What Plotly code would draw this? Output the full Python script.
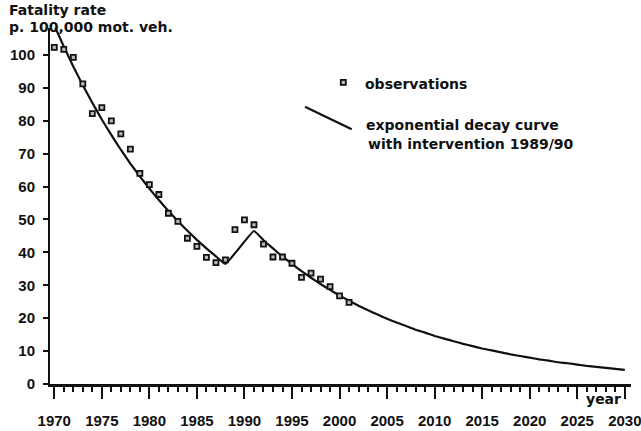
import plotly.graph_objects as go

# Observations (fatality rate per 100,000 motor vehicles)
obs_years = list(range(1970, 2002))
obs_values = [102.3, 101.7, 99.3, 91.2, 82.2, 84.0, 80.0, 76.0, 71.4, 64.0,
              60.6, 57.6, 51.9, 49.4, 44.3, 41.8, 38.5, 36.9, 37.7, 46.9,
              49.9, 48.4, 42.5, 38.6, 38.6, 36.7, 32.4, 33.7, 31.9, 29.6,
              26.8, 24.8]

# Exponential decay curve with intervention 1989/90
curve_years = list(range(1970, 1989)) + list(range(1991, 2031))
curve_values = [109.0, 102.6, 96.5, 90.8, 85.5, 80.4, 75.7, 71.2, 67.0, 63.1,
                59.4, 55.9, 52.6, 49.5, 46.6, 43.8, 41.2, 38.8, 36.5,
                46.5, 43.7, 41.2, 38.7, 36.5, 34.3, 32.3, 30.4, 28.6, 26.9,
                25.3, 23.8, 22.4, 21.1, 19.8, 18.7, 17.6, 16.5, 15.6, 14.6,
                13.8, 13.0, 12.2, 11.5, 10.8, 10.2, 9.6, 9.0, 8.5, 8.0,
                7.5, 7.1, 6.6, 6.3, 5.9, 5.5, 5.2, 4.9, 4.6, 4.3]

x_ticks = list(range(1970, 2031, 5))
y_ticks = list(range(0, 101, 10))

TXT = dict(family="DejaVu Sans", size=14, color="#111111", weight="bold")
NUM = dict(family="Liberation Sans", size=15, color="#111111", weight="bold")

fig = go.Figure()
fig.add_trace(go.Scatter(x=curve_years, y=curve_values, mode="lines",
                         line=dict(color="#111111", width=2.2, shape="spline",
                                   smoothing=0.3),
                         hoverinfo="skip", showlegend=False))
fig.add_trace(go.Scatter(x=obs_years, y=obs_values, mode="markers",
                         marker=dict(symbol="square", size=5, color="#bbbbbb",
                                     line=dict(color="#111111", width=1.8)),
                         showlegend=False))

fig.update_layout(
    width=641, height=431,
    margin=dict(l=50, r=10, t=28, b=47, autoexpand=False),
    paper_bgcolor="white", plot_bgcolor="white",
    xaxis=dict(range=[1969.55, 2030.65], tickmode="array", tickvals=x_ticks,
               ticks="outside", ticklen=12, tickwidth=2, tickcolor="#111111",
               showline=True, linecolor="#111111", linewidth=2.5,
               showgrid=False, zeroline=False, tickfont=NUM,
               ticklabelstandoff=9, automargin=False,
               ticklabeloverflow="allow",
               minor=dict(dtick=1, tick0=1970, ticks="outside", ticklen=5,
                          tickwidth=2, tickcolor="#111111", showgrid=False)),
    yaxis=dict(range=[0, 108.2], tickmode="array", tickvals=y_ticks,
               ticks="outside", ticklen=5, tickwidth=2, tickcolor="#111111",
               showline=True, linecolor="#111111", linewidth=2,
               showgrid=False, zeroline=False, tickfont=NUM,
               ticklabelstandoff=5, automargin=False,
               ticklabeloverflow="allow"),
)

# helpers: pixel -> paper coordinates (plot area 50..631 x 28..384)
def px_x(px):
    return (px - 50) / 581.0

def px_y(py):
    return (384 - py) / 356.0

annos = [
    ("Fatality rate", 7, 10.5, "left"),
    ("p. 100,000 mot. veh.", 7, 26.5, "left"),
    ("observations", 363, 83.5, "left"),
    ("exponential decay curve", 364, 125, "left"),
    ("with intervention 1989/90", 365.5, 144, "left"),
    ("year", 623, 399, "right"),
]
for text, ax_, ay_, anc in annos:
    fig.add_annotation(text=text, xref="paper", yref="paper",
                       x=px_x(ax_), y=px_y(ay_), xanchor=anc, yanchor="middle",
                       showarrow=False, font=TXT)

# legend symbols
fig.add_shape(type="rect", xref="paper", yref="paper",
              x0=px_x(340.8), x1=px_x(345.8), y0=px_y(84.8), y1=px_y(79.8),
              line=dict(color="#111111", width=1.8), fillcolor="#bbbbbb")
fig.add_shape(type="line", xref="paper", yref="paper",
              x0=px_x(305), y0=px_y(106.7), x1=px_x(351.7), y1=px_y(129.3),
              line=dict(color="#111111", width=2.2))

# remove the default 8px page margin so the 641x431 figure fills the window
fig.write_html("out.html",
               config={"displayModeBar": False},
               post_script="document.body.style.margin='0';"
                           "document.body.style.overflow='hidden';")
